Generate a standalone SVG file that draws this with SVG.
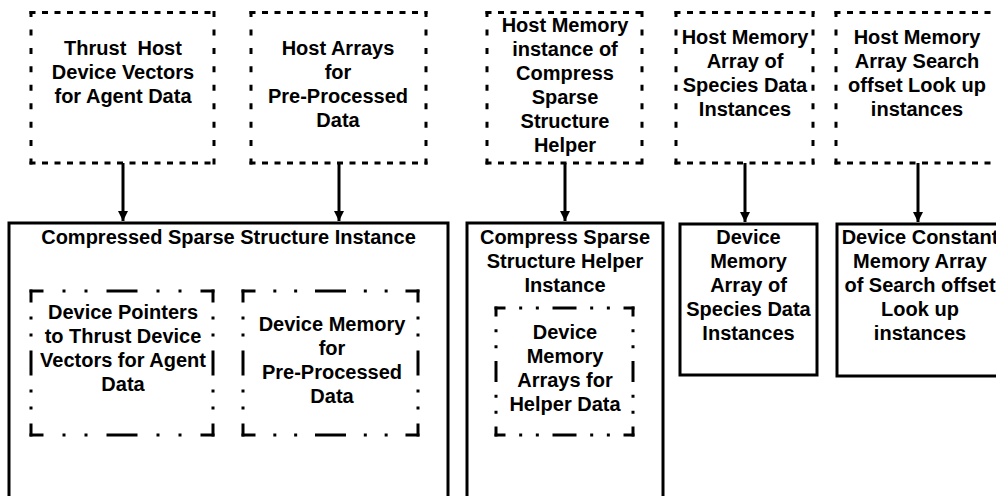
<svg xmlns="http://www.w3.org/2000/svg" width="996" height="496" viewBox="0 0 996 496">
  <style>
    .t { font-family: "Liberation Sans", Arial, sans-serif; font-weight: bold; font-size: 20px; text-anchor: middle; fill: #000; }
    .solid { fill: none; stroke: #000; stroke-width: 3; }
    .dh { fill: none; stroke: #000; stroke-width: 3; stroke-dasharray: 6 6.5; }
    .dv { fill: none; stroke: #000; stroke-width: 3; stroke-dasharray: 6 12.44; }
    .dd { fill: none; stroke: #000; stroke-width: 3; }
    .conn { fill: none; stroke: #000; stroke-width: 3; }
  </style>
  <defs>
    <marker id="arrow" markerUnits="userSpaceOnUse" markerWidth="11" markerHeight="11" refX="10" refY="5" orient="auto">
      <path d="M0,0 L10,5 L0,10 z" fill="#000"/>
    </marker>
  </defs>
  <rect width="996" height="496" fill="#fff"/>

  <!-- host side (dashed boxes) -->
  <g id="host-thrust-vectors">
    <line class="dh" x1="29.5" y1="12.5" x2="215.5" y2="12.5" stroke-dasharray="6 6.857"/>
    <line class="dh" x1="29.5" y1="163" x2="215.5" y2="163" stroke-dasharray="6 6.857"/>
    <line class="dv" x1="31" y1="11" x2="31" y2="164.5"/>
    <line class="dv" x1="214" y1="11" x2="214" y2="164.5"/>
    <text class="t" x="123" xml:space="preserve"><tspan x="123" y="55">Thrust  Host</tspan></text>
    <text class="t"><tspan x="123" y="79">Device Vectors</tspan><tspan x="123" y="103">for Agent Data</tspan></text>
  </g>

  <g id="host-arrays">
    <line class="dh" x1="249.5" y1="12.5" x2="427.5" y2="12.5" stroke-dasharray="6 6.29"/>
    <line class="dh" x1="249.5" y1="163" x2="427.5" y2="163" stroke-dasharray="6 6.29"/>
    <line class="dv" x1="251" y1="11" x2="251" y2="164.5"/>
    <line class="dv" x1="426" y1="11" x2="426" y2="164.5"/>
    <text class="t"><tspan x="338" y="55">Host Arrays</tspan><tspan x="338" y="79">for</tspan><tspan x="338" y="103">Pre-Processed</tspan><tspan x="338" y="127">Data</tspan></text>
  </g>

  <g id="host-helper">
    <line class="dh" x1="485.5" y1="12.5" x2="643.5" y2="12.5" stroke-dasharray="6 6.67"/>
    <line class="dh" x1="485.5" y1="163" x2="643.5" y2="163" stroke-dasharray="6 6.67"/>
    <line class="dv" x1="487" y1="11" x2="487" y2="164.5"/>
    <line class="dv" x1="642" y1="11" x2="642" y2="164.5"/>
    <text class="t"><tspan x="565" y="32">Host Memory</tspan><tspan x="565" y="56">instance of</tspan><tspan x="565" y="80">Compress</tspan><tspan x="565" y="104">Sparse</tspan><tspan x="565" y="128">Structure</tspan><tspan x="565" y="152">Helper</tspan></text>
  </g>

  <g id="host-species">
    <line class="dh" x1="674.5" y1="12.5" x2="814.5" y2="12.5" stroke-dasharray="6 6.18"/>
    <line class="dh" x1="674.5" y1="163" x2="814.5" y2="163" stroke-dasharray="6 6.18"/>
    <line class="dv" x1="676" y1="11" x2="676" y2="164.5"/>
    <line class="dv" x1="813" y1="11" x2="813" y2="164.5"/>
    <text class="t"><tspan x="745" y="44">Host Memory</tspan><tspan x="745" y="68">Array of</tspan><tspan x="745" y="92">Species Data</tspan><tspan x="745" y="116">Instances</tspan></text>
  </g>

  <g id="host-search-offsets">
    <line class="dh" x1="834.5" y1="12.5" x2="1000" y2="12.5"/>
    <line class="dh" x1="834.5" y1="163" x2="1000" y2="163"/>
    <line class="dv" x1="836" y1="11" x2="836" y2="164.5"/>
    <text class="t"><tspan x="917" y="44">Host Memory</tspan><tspan x="917" y="68">Array Search</tspan><tspan x="917" y="92">offset Look up</tspan><tspan x="917" y="116">instances</tspan></text>
  </g>

  <!-- device side -->
  <g id="css-instance">
    <rect class="solid" x="9" y="223" width="439" height="300"/>
    <text class="t" x="228.5" y="244">Compressed Sparse Structure Instance</text>
  </g>

  <g id="device-pointers">
    <line class="dd" x1="29.5" y1="291" x2="214.5" y2="291" stroke-dasharray="14 19 3 19 3 19 31 19 3 19 3 19 14"/>
    <line class="dd" x1="29.5" y1="435" x2="214.5" y2="435" stroke-dasharray="14 19 3 19 3 19 31 19 3 19 3 19 14"/>
    <line class="dd" x1="31" y1="289.5" x2="31" y2="436.5" stroke-dasharray="13 14 3 14 3 14 25 14 3 14 3 14 13"/>
    <line class="dd" x1="213" y1="289.5" x2="213" y2="436.5" stroke-dasharray="13 14 3 14 3 14 25 14 3 14 3 14 13"/>
    <text class="t"><tspan x="123" y="319">Device Pointers</tspan><tspan x="123" y="343">to Thrust Device</tspan><tspan x="123" y="367">Vectors for Agent</tspan><tspan x="123" y="391">Data</tspan></text>
  </g>

  <g id="device-preprocessed">
    <line class="dd" x1="241.5" y1="291" x2="419.5" y2="291" stroke-dasharray="14 17.83 3 17.83 3 17.83 31 17.83 3 17.83 3 17.83 14"/>
    <line class="dd" x1="241.5" y1="435" x2="419.5" y2="435" stroke-dasharray="14 17.83 3 17.83 3 17.83 31 17.83 3 17.83 3 17.83 14"/>
    <line class="dd" x1="243" y1="289.5" x2="243" y2="436.5" stroke-dasharray="13 14 3 14 3 14 25 14 3 14 3 14 13"/>
    <line class="dd" x1="418" y1="289.5" x2="418" y2="436.5" stroke-dasharray="13 14 3 14 3 14 25 14 3 14 3 14 13"/>
    <text class="t"><tspan x="332" y="331">Device Memory</tspan><tspan x="332" y="355">for</tspan><tspan x="332" y="379">Pre-Processed</tspan><tspan x="332" y="403">Data</tspan></text>
  </g>

  <g id="helper-instance">
    <rect class="solid" x="467" y="223" width="196" height="300"/>
    <text class="t"><tspan x="565" y="244">Compress Sparse</tspan><tspan x="565" y="268">Structure Helper</tspan><tspan x="565" y="292">Instance</tspan></text>
  </g>

  <g id="helper-data">
    <line class="dd" x1="494.5" y1="308" x2="634.5" y2="308" stroke-dasharray="11 13.67 3 13.67 3 13.67 24 13.67 3 13.67 3 13.67 11"/>
    <line class="dd" x1="494.5" y1="435" x2="634.5" y2="435" stroke-dasharray="11 13.67 3 13.67 3 13.67 24 13.67 3 13.67 3 13.67 11"/>
    <line class="dd" x1="496" y1="306.5" x2="496" y2="436.5" stroke-dasharray="10 12.83 3 12.83 3 12.83 21 12.83 3 12.83 3 12.83 10"/>
    <line class="dd" x1="633" y1="306.5" x2="633" y2="436.5" stroke-dasharray="10 12.83 3 12.83 3 12.83 21 12.83 3 12.83 3 12.83 10"/>
    <text class="t"><tspan x="565" y="339">Device</tspan><tspan x="565" y="363">Memory</tspan><tspan x="565" y="387">Arrays for</tspan><tspan x="565" y="411">Helper Data</tspan></text>
  </g>

  <g id="device-species">
    <rect class="solid" x="680" y="224" width="137" height="151"/>
    <text class="t"><tspan x="748.5" y="244">Device</tspan><tspan x="748.5" y="268">Memory</tspan><tspan x="748.5" y="292">Array of</tspan><tspan x="748.5" y="316">Species Data</tspan><tspan x="748.5" y="340">Instances</tspan></text>
  </g>

  <g id="device-search-offsets">
    <rect class="solid" x="837" y="224" width="180" height="152"/>
    <text class="t"><tspan x="920" y="244">Device Constant</tspan><tspan x="920" y="268">Memory Array</tspan><tspan x="920" y="292">of Search offset</tspan><tspan x="920" y="316">Look up</tspan><tspan x="920" y="340">instances</tspan></text>
  </g>

  <!-- copies from host to device -->
  <g id="connectors">
    <line class="conn" x1="123" y1="163" x2="123" y2="221" marker-end="url(#arrow)"/>
    <line class="conn" x1="339" y1="163" x2="339" y2="221" marker-end="url(#arrow)"/>
    <line class="conn" x1="565" y1="163" x2="565" y2="221" marker-end="url(#arrow)"/>
    <line class="conn" x1="745" y1="163" x2="745" y2="222" marker-end="url(#arrow)"/>
    <line class="conn" x1="918" y1="163" x2="918" y2="222" marker-end="url(#arrow)"/>
  </g>
</svg>
